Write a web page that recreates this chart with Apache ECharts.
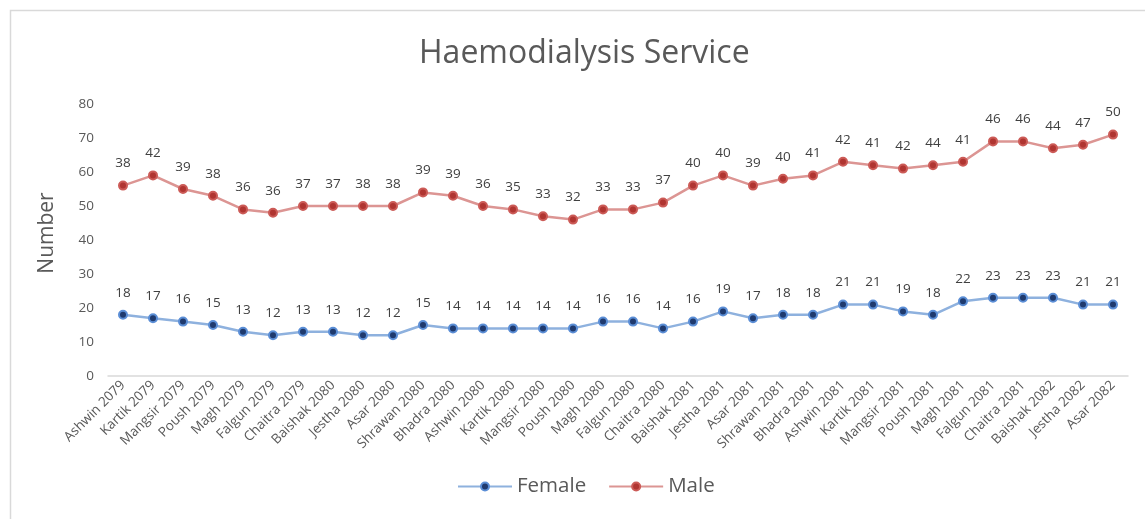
<!DOCTYPE html>
<html>
<head>
<meta charset="utf-8">
<style>
  html, body { margin: 0; padding: 0; background: #ffffff; }
  #chart { width: 1145px; height: 519px; }
</style>
<script src="https://cdn.jsdelivr.net/npm/echarts@6/dist/echarts.min.js"></script>
</head>
<body>
<div id="chart"></div>
<script>
// Monthly haemodialysis service counts (Nepali calendar months)
const months = [
  'Ashwin 2079', 'Kartik 2079', 'Mangsir 2079', 'Poush 2079', 'Magh 2079', 'Falgun 2079',
  'Chaitra 2079', 'Baishak 2080', 'Jestha 2080', 'Asar 2080', 'Shrawan 2080', 'Bhadra 2080',
  'Ashwin 2080', 'Kartik 2080', 'Mangsir 2080', 'Poush 2080', 'Magh 2080', 'Falgun 2080',
  'Chaitra 2080', 'Baishak 2081', 'Jestha 2081', 'Asar 2081', 'Shrawan 2081', 'Bhadra 2081',
  'Ashwin 2081', 'Kartik 2081', 'Mangsir 2081', 'Poush 2081', 'Magh 2081', 'Falgun 2081',
  'Chaitra 2081', 'Baishak 2082', 'Jestha 2082', 'Asar 2082'
];

const female = [18, 17, 16, 15, 13, 12, 13, 13, 12, 12, 15, 14, 14, 14, 14, 14, 16, 16,
                14, 16, 19, 17, 18, 18, 21, 21, 19, 18, 22, 23, 23, 23, 21, 21];

const male = [38, 42, 39, 38, 36, 36, 37, 37, 38, 38, 39, 39, 36, 35, 33, 32, 33, 33,
              37, 40, 40, 39, 40, 41, 42, 41, 42, 44, 41, 46, 46, 44, 47, 50];

const yTicks = [0, 10, 20, 30, 40, 50, 60, 70, 80];

const FONT = '"Open Sans", Lato, sans-serif';
const TEXT = '#595959';

const chart = echarts.init(document.getElementById('chart'), null, { renderer: 'canvas' });

function lineSeries(name, data, lineColor, dotColor, ringColor) {
  return {
    name: name,
    type: 'line',
    stack: 'total',
    data: data,
    symbol: 'circle',
    symbolSize: 8,
    lineStyle: { color: lineColor, width: 2.5 },
    itemStyle: { color: dotColor, borderColor: ringColor, borderWidth: 2 },
    label: {
      show: true,
      position: 'top',
      distance: 10,
      fontFamily: FONT,
      fontSize: 13.5,
      color: '#404040'
    },
    emphasis: { disabled: true },
    animation: false
  };
}

chart.setOption({
  backgroundColor: '#ffffff',
  title: {
    text: 'Haemodialysis Service',
    left: 414,
    top: 33,
    textStyle: { fontFamily: FONT, fontSize: 32, fontWeight: 'normal', color: TEXT }
  },
  legend: {
    bottom: 17,
    left: 452,
    itemWidth: 54,
    itemHeight: 10,
    itemGap: 22,
    textStyle: { fontFamily: FONT, fontSize: 20.5, color: TEXT },
    data: ['Female', 'Male']
  },
  grid: { left: 108, right: 17, top: 104, bottom: 143, containLabel: false },
  xAxis: {
    type: 'category',
    data: months,
    boundaryGap: true,
    axisLine: { lineStyle: { color: '#d9d9d9', width: 1.5 } },
    axisTick: { show: false },
    axisLabel: {
      interval: 0,
      rotate: 45,
      margin: 7,
      fontFamily: FONT,
      fontSize: 13.5,
      color: TEXT
    }
  },
  yAxis: {
    type: 'value',
    min: yTicks[0],
    max: yTicks[yTicks.length - 1],
    interval: 10,
    name: 'Number',
    nameLocation: 'middle',
    nameGap: 50,
    nameRotate: 90,
    nameTextStyle: { fontFamily: FONT, fontSize: 21, color: TEXT, padding: [0, 0, 0, 14] },
    axisLine: { show: false },
    axisTick: { show: false },
    splitLine: { show: false },
    axisLabel: { fontFamily: FONT, fontSize: 13.5, color: TEXT, margin: 14 }
  },
  graphic: [{
    type: 'rect',
    shape: { x: 10.5, y: 10.5, width: 1300, height: 700 },
    style: { fill: 'none', stroke: '#d9d9d9', lineWidth: 1.5 },
    silent: true
  }],
  series: [
    lineSeries('Female', female, '#8eb1de', '#1f3a6e', '#5b8ed6'),
    lineSeries('Male', male, '#dc9593', '#b03531', '#cc5b57')
  ]
});
</script>
</body>
</html>
